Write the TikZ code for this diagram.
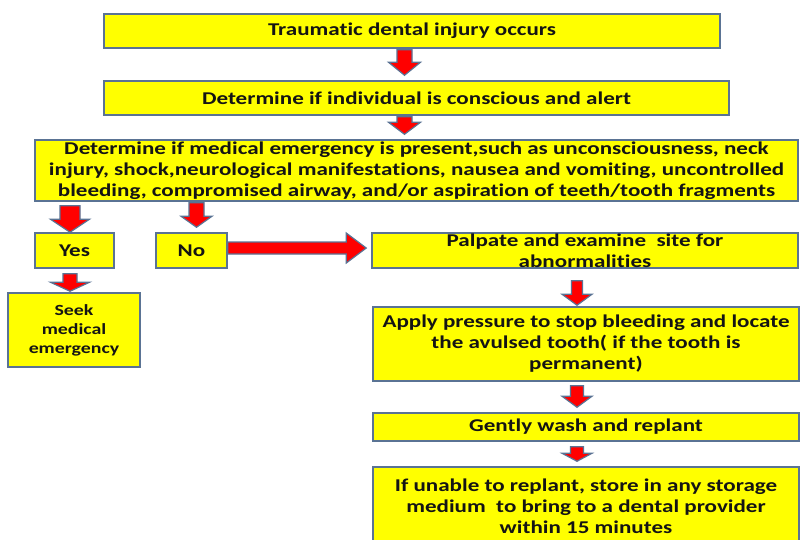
\documentclass[tikz,border=0pt]{standalone}
\usepackage{fontspec}
\setmainfont[FakeStretch=1.28,RawFeature=-liga]{Carlito}
\usetikzlibrary{calc}
\definecolor{bord}{HTML}{5A7394}
\definecolor{boxfill}{HTML}{FFFF00}
\definecolor{arrfill}{HTML}{FF0000}
\definecolor{txt}{HTML}{141414}
\tikzset{
  fbox/.style={draw=bord, line width=1.5pt, fill=boxfill, inner sep=0pt, align=center, text=txt,
    font=\bfseries\fontsize{18}{21}\selectfont},
  barrow/.style={draw=bord, line width=1.2pt, fill=arrfill, line join=miter},
}
% #1 from, #2 to, #3 x, #4 shaft half width, #5 head half width, #6 top gap, #7 tip gap, #8 head length
\newcommand\darr[8]{%
  \draw[barrow] let \p1=(#1.south), \p2=(#2.north),
    \n1={\y1-#6pt}, \n2={\y2+#7pt}, \n3={\y2+#7pt+#8pt} in
    ({(#3-#4)*1pt},\n1) -- ({(#3+#4)*1pt},\n1) -- ({(#3+#4)*1pt},\n3) -- ({(#3+#5)*1pt},\n3)
    -- ({#3*1pt},\n2) -- ({(#3-#5)*1pt},\n3) -- ({(#3-#4)*1pt},\n3) -- cycle;}
\begin{document}
\begin{tikzpicture}[x=1pt,y=-1pt]
\clip (0,0) rectangle (802,539);
\fill[white] (0,0) rectangle (802,539);
\node[fbox, minimum width=616pt, minimum height=34pt] (b1) at (412,31) {\raisebox{-1.5pt}{Traumatic dental injury occurs}};
\node[fbox, minimum width=625pt, minimum height=34pt] (b2) at (416.5,98) {\raisebox{-1.5pt}{Determine if individual is conscious and alert}};
\node[fbox, minimum width=763pt, minimum height=61pt] (b3) at (416.5,170.5) {Determine if medical emergency is present,such as unconsciousness, neck\\injury, shock,neurological manifestations, nausea and vomiting, uncontrolled\\bleeding, compromised airway, and/or aspiration of teeth/tooth fragments};
\node[fbox, minimum width=79pt, minimum height=35pt] (yes) at (74.5,250.5) {Yes};
\node[fbox, minimum width=71pt, minimum height=35pt] (no) at (191.5,250.5) {No};
\node[fbox, minimum width=426pt, minimum height=35pt] (palp) at (585,250.5) {Palpate and examine \ site for\\abnormalities};
\node[fbox, minimum width=132pt, minimum height=74pt, font=\bfseries\fontsize{15.5}{19}\selectfont] (seek) at (74,330) {Seek\\medical\\emergency};
\node[fbox, minimum width=426pt, minimum height=74pt] (apply) at (586,344) {Apply pressure to stop bleeding and locate\\the avulsed tooth( if the tooth is\\permanent)};
\node[fbox, minimum width=426pt, minimum height=28pt] (gently) at (586,427) {Gently wash and replant};
\node[fbox, minimum width=426pt, minimum height=78pt] (unable) at (586,506) {If unable to replant, store in any storage\\medium \ to bring to a dental provider\\within 15 minutes};
\darr{b1}{b2}{404.5}{7.5}{16}{1}{5}{13}
\darr{b2}{b3}{404.5}{7.5}{16}{1}{5}{12}
\darr{b3}{yes}{70}{10}{19.5}{4}{0}{13}
\darr{b3}{no}{196.5}{7.5}{15.5}{1}{5}{11}
\darr{yes}{seek}{70}{7}{19.5}{5}{1}{9}
\darr{palp}{apply}{577}{5.5}{15}{12}{1}{11}
\darr{apply}{gently}{577}{6.5}{15}{4}{5}{11}
\darr{gently}{unable}{577}{6.5}{15}{5}{5}{8}
\draw[barrow] let \p1=(no.east), \p2=(palp.west),
  \n1={\y1+2.5pt}, \n2={\x2-5pt}, \n3={\x2-25pt} in
  (\x1,{\n1+6pt}) -- (\n3,{\n1+6pt}) -- (\n3,{\n1+15pt}) -- (\n2,\n1)
  -- (\n3,{\n1-15pt}) -- (\n3,{\n1-6pt}) -- (\x1,{\n1-6pt}) -- cycle;
\end{tikzpicture}
\end{document}
